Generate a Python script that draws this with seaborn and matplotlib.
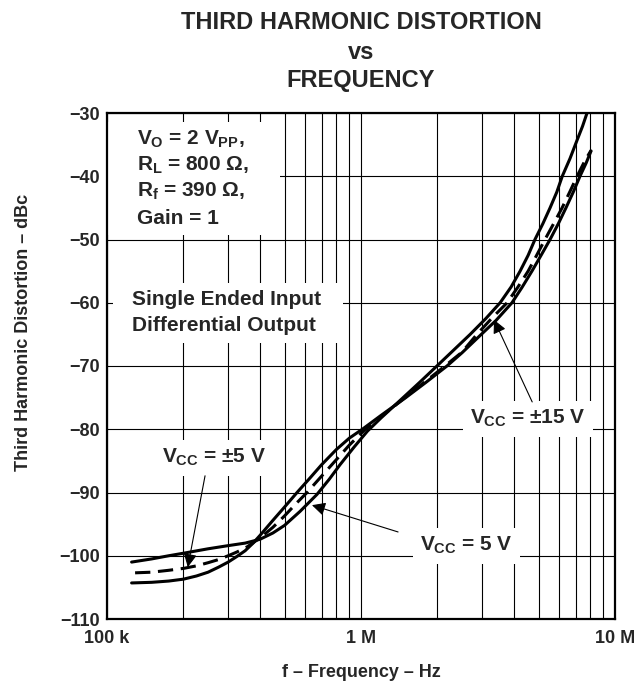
import pandas as pd
import matplotlib
matplotlib.use("Agg")
import matplotlib.pyplot as plt
from matplotlib.patches import Rectangle
import seaborn as sns

# --- donnees (frequence en kHz, distortion en dBc) ---
freq_5v = [125, 150, 175, 200, 250, 300, 350, 400, 450, 500, 575, 671, 750, 827, 940,
           1060, 1200, 1420, 1700, 1990, 2300, 2690, 3100, 3530, 3900, 4230, 4550, 4840,
           5200, 5550, 5900, 6200, 6650, 7090, 7450, 7760]
thd_5v = [-101.0, -100.5, -100.0, -99.6, -98.9, -98.4, -98.0, -97.4, -96.4, -95.2, -93.0,
          -90.3, -87.9, -85.6, -82.8, -80.3, -78.2, -75.5, -72.6, -70.0, -67.6, -65.0,
          -62.5, -60.0, -57.5, -55.0, -52.5, -50.0, -47.5, -45.0, -42.5, -40.0, -37.2,
          -34.3, -32.1, -30.0]

freq_pm5v = [129, 150, 175, 200, 225, 250, 275, 300, 325, 356, 400, 450, 500, 560, 613,
             700, 800, 900, 1040, 1200, 1500, 1800, 2140, 2500, 2860, 3300, 3760, 4150,
             4550, 4900, 5300, 5750, 6190, 6650, 7090, 7600, 8050]
thd_pm5v = [-102.7, -102.6, -102.3, -102.0, -101.6, -101.1, -100.6, -100.0, -99.4, -98.6,
            -97.2, -95.5, -93.7, -91.6, -90.0, -87.4, -84.8, -82.5, -80.0, -78.0, -74.9,
            -72.4, -70.0, -67.8, -65.0, -62.3, -60.0, -57.5, -55.0, -52.6, -50.0, -47.4,
            -45.0, -42.4, -40.0, -37.6, -35.9]

freq_pm15v = [125, 150, 175, 200, 225, 250, 275, 300, 325, 350, 376, 400, 450, 500, 560,
              630, 700, 800, 900, 1020, 1200, 1500, 1800, 2180, 2500, 2940, 3400, 3930,
              4300, 4710, 5100, 5550, 6000, 6410, 6850, 7280, 7700, 8050]
thd_pm15v = [-104.3, -104.2, -104.0, -103.7, -103.2, -102.6, -101.8, -101.0, -100.1, -99.2,
             -98.0, -96.8, -94.4, -92.3, -90.0, -87.7, -85.6, -83.2, -81.4, -79.9, -77.8,
             -75.0, -72.6, -70.0, -67.9, -65.2, -62.8, -60.0, -57.6, -55.0, -52.6, -50.0,
             -47.4, -45.0, -42.5, -40.0, -37.9, -36.0]

supplies = ["5 V", "±5 V", "±15 V"]

y_ticks = [-110, -100, -90, -80, -70, -60, -50, -40, -30]
y_ticklabels = ["\u2212110", "\u2212100", "\u221290", "\u221280", "\u221270",
                "\u221260", "\u221250", "\u221240", "\u221230"]
x_ticks = [1e5, 1e6, 1e7]
x_ticklabels = ["100 k", "1 M", "10 M"]

# table longue pour seaborn
df = pd.concat([
    pd.DataFrame({"freq": [f * 1e3 for f in freq_5v], "thd": thd_5v, "supply": supplies[0]}),
    pd.DataFrame({"freq": [f * 1e3 for f in freq_pm5v], "thd": thd_pm5v, "supply": supplies[1]}),
    pd.DataFrame({"freq": [f * 1e3 for f in freq_pm15v], "thd": thd_pm15v, "supply": supplies[2]}),
], ignore_index=True)

sns.set_style("white")
plt.rcParams["font.family"] = ["Liberation Sans", "DejaVu Sans"]
plt.rcParams["font.weight"] = "bold"
plt.rcParams["mathtext.fontset"] = "custom"
plt.rcParams["mathtext.rm"] = "Liberation Sans:bold"
plt.rcParams["mathtext.it"] = "Liberation Sans:bold"
plt.rcParams["mathtext.bf"] = "Liberation Sans:bold"

fig = plt.figure(figsize=(6.41, 6.83), dpi=100)
ax = fig.add_axes([107 / 641, 1 - 619 / 683, 508 / 641, 506 / 683])

sns.lineplot(data=df, x="freq", y="thd", hue="supply", style="supply",
             palette={s: "black" for s in supplies},
             dashes={"5 V": "", "±5 V": (5, 2.5), "±15 V": ""},
             linewidth=2.2, legend=False, sort=False, estimator=None, ax=ax, zorder=4)

ax.set_xscale("log")
ax.set_xlim(1e5, 1e7)
ax.set_ylim(-110, -30)
ax.set_xticks(x_ticks)
ax.set_xticklabels(x_ticklabels)
ax.set_yticks(y_ticks)
ax.set_yticklabels(y_ticklabels)
ax.tick_params(which="both", length=0, labelsize=13)
ax.tick_params(axis="x", pad=8)
ax.tick_params(axis="y", pad=5)
ax.grid(True, which="both", color="black", linewidth=0.8)
ax.set_axisbelow(True)
for sp in ax.spines.values():
    sp.set_linewidth(1.6)
    sp.set_color("black")

ax.set_xlabel("f \u2013 Frequency \u2013 Hz", fontsize=13, fontweight="bold", labelpad=12)
ax.set_ylabel("Third Harmonic Distortion \u2013 dBc", fontsize=13, fontweight="bold")
ax.yaxis.set_label_coords(-0.147, 0.567)

# masques blancs derriere les textes
ax.add_patch(Rectangle((0, 0.759), 0.341, 0.223, transform=ax.transAxes,
                       facecolor="white", edgecolor="none", zorder=2))
ax.add_patch(Rectangle((0.012, 0.545), 0.453, 0.119, transform=ax.transAxes,
                       facecolor="white", edgecolor="none", zorder=2))

fs = 15
cond = [r"$V_O$ = 2 $V_{PP}$,", "$R_L$ = 800 \u03a9,", "$R_f$ = 390 \u03a9,", "Gain = 1"]
for txt, yy in zip(cond, [0.937, 0.885, 0.834, 0.781]):
    ax.text(0.059, yy, txt, transform=ax.transAxes, fontsize=fs, va="baseline", zorder=5)
ax.text(0.049, 0.621, "Single Ended Input", transform=ax.transAxes, fontsize=fs,
        va="baseline", zorder=5)
ax.text(0.049, 0.569, "Differential Output", transform=ax.transAxes, fontsize=fs,
        va="baseline", zorder=5)

box = dict(facecolor="white", edgecolor="none", boxstyle="square,pad=0.35")
ax.text(0.108, 0.308, "$V_{CC}$ = \u00b15 V", transform=ax.transAxes, fontsize=fs,
        va="baseline", bbox=box, zorder=5)
ax.text(0.616, 0.134, "$V_{CC}$ = 5 V", transform=ax.transAxes, fontsize=fs,
        va="baseline", bbox=box, zorder=5)
ax.text(0.715, 0.385, "$V_{CC}$ = \u00b115 V", transform=ax.transAxes, fontsize=fs,
        va="baseline", bbox=box, zorder=5)

arrow = dict(arrowstyle="-|>", color="black", lw=0.8, mutation_scale=20, shrinkA=0, shrinkB=0)
ax.annotate("", xy=(2.08e5, -101.8), xytext=(0.193, 0.283), textcoords="axes fraction",
            arrowprops=arrow, zorder=6)
ax.annotate("", xy=(6.41e5, -92.0), xytext=(0.573, 0.172), textcoords="axes fraction",
            arrowprops=arrow, zorder=6)
ax.annotate("", xy=(3.34e6, -62.7), xytext=(0.837, 0.429), textcoords="axes fraction",
            arrowprops=arrow, zorder=6)

# titre sur trois lignes
tx = 361 / 641
fig.text(tx, 1 - 29 / 683, "THIRD HARMONIC DISTORTION", ha="center", va="baseline",
         fontsize=17, fontweight="bold")
fig.text(tx, 1 - 59 / 683, "vs", ha="center", va="baseline", fontsize=17, fontweight="bold")
fig.text(tx, 1 - 87 / 683, "FREQUENCY", ha="center", va="baseline", fontsize=17,
         fontweight="bold")

fig.savefig("out.png", dpi=100)
plt.close(fig)
